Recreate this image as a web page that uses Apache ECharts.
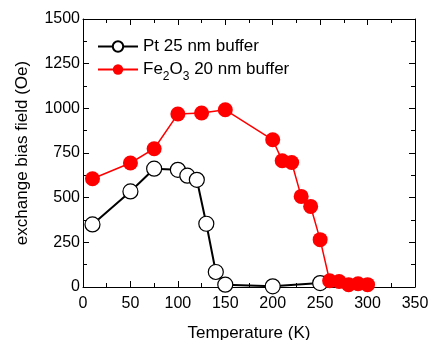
<!DOCTYPE html>
<html>
<head>
<meta charset="utf-8">
<script src="https://cdn.jsdelivr.net/npm/echarts@6/dist/echarts.min.js"></script>
<style>
  html, body { margin: 0; padding: 0; background: #fff; }
  #chart { width: 433px; height: 340px; }
</style>
</head>
<body>
<div id="chart"></div>
<script>
// Pt 25 nm buffer
const ptTemp = [10, 50, 75, 100, 110, 120, 130, 140, 150, 200, 250]
const ptField = [350, 535, 662, 656, 623, 600, 354, 84, 13, 4, 22]
// Fe2O3 20 nm buffer
const feTemp = [10, 50, 75, 100, 125, 150, 200, 210, 220, 230, 240, 250, 260, 270, 280, 290, 300]
const feField = [606, 694, 774, 968, 974, 992, 824, 707, 697, 507, 451, 265, 35, 31, 13, 18, 13]

const pair = (xs, ys) => xs.map((x, i) => [x, ys[i]])

const font = 'Liberation Sans'
const chart = echarts.init(document.getElementById('chart'))

const tickStyle = { show: true, inside: true, length: 6, lineStyle: { color: '#000', width: 1 } }
const minorStyle = { show: true, splitNumber: 2, length: 4, lineStyle: { color: '#000', width: 1 } }

const option = {
    animation: false,
    backgroundColor: '#fff',
    textStyle: { fontFamily: font },
    grid: { left: 83, right: 18, top: 19, bottom: 53, outerBoundsMode: 'none', containLabel: false },
    legend: {
        left: 92,
        top: 33,
        orient: 'vertical',
        itemWidth: 40,
        itemHeight: 13,
        itemGap: 6,
        textStyle: {
            fontFamily: font,
            fontSize: 17,
            color: '#000',
            rich: {
                n: { fontFamily: font, fontSize: 17, color: '#000', verticalAlign: 'top', lineHeight: 17 },
                sub: { fontFamily: font, fontSize: 12, color: '#000', verticalAlign: 'top', lineHeight: 12, padding: [10, 0, 0, 0] }
            }
        },
        formatter: name => name === 'fe' ? '{n|Fe}{sub|2}{n|O}{sub|3}{n| 20 nm buffer}' : '{n|Pt 25 nm buffer}',
        data: ['pt', 'fe']
    },
    xAxis: [{
        type: 'value',
        min: 0, max: 350, interval: 50,
        name: 'Temperature (K)',
        nameLocation: 'middle',
        nameGap: 38,
        nameTextStyle: { fontFamily: font, fontSize: 17, color: '#000' },
        axisLine: { show: true, lineStyle: { color: '#000', width: 1 } },
        axisTick: tickStyle,
        minorTick: minorStyle,
        axisLabel: { fontFamily: font, fontSize: 16, color: '#000', margin: 9, formatter: v => String(v) },
        splitLine: { show: false }
    }, {
        type: 'value',
        position: 'top',
        min: 0, max: 350, interval: 50,
        axisLine: { show: true, onZero: false, lineStyle: { color: '#000', width: 1 } },
        axisTick: tickStyle,
        minorTick: minorStyle,
        axisLabel: { show: false },
        splitLine: { show: false }
    }],
    yAxis: [{
        type: 'value',
        min: 0, max: 1500, interval: 250,
        name: 'exchange bias field (Oe)',
        nameLocation: 'middle',
        nameGap: 52,
        nameTextStyle: { fontFamily: "'Liberation Sans Narrow', 'Liberation Sans'", fontSize: 17, color: '#000' },
        axisLine: { show: true, lineStyle: { color: '#000', width: 1 } },
        axisTick: tickStyle,
        minorTick: minorStyle,
        axisLabel: { fontFamily: font, fontSize: 16, color: '#000', margin: 3, formatter: v => String(v) },
        splitLine: { show: false }
    }, {
        type: 'value',
        position: 'right',
        min: 0, max: 1500, interval: 250,
        axisLine: { show: true, onZero: false, lineStyle: { color: '#000', width: 1 } },
        axisTick: tickStyle,
        minorTick: minorStyle,
        axisLabel: { show: false },
        splitLine: { show: false }
    }],
    series: [
        {
            name: 'pt',
            type: 'line',
            data: pair(ptTemp, ptField),
            symbol: 'circle',
            symbolSize: 15,
            lineStyle: { color: '#000', width: 2 },
            itemStyle: { color: '#fff', borderColor: '#000', borderWidth: 1.2 },
            z: 2
        },
        {
            name: 'fe',
            type: 'line',
            data: pair(feTemp, feField),
            symbol: 'circle',
            symbolSize: 15,
            lineStyle: { color: '#ff0000', width: 1.5 },
            itemStyle: { color: '#ff0000', borderColor: '#ff0000', borderWidth: 0 },
            z: 3
        }
    ]
}
chart.setOption(option)
</script>
</body>
</html>
